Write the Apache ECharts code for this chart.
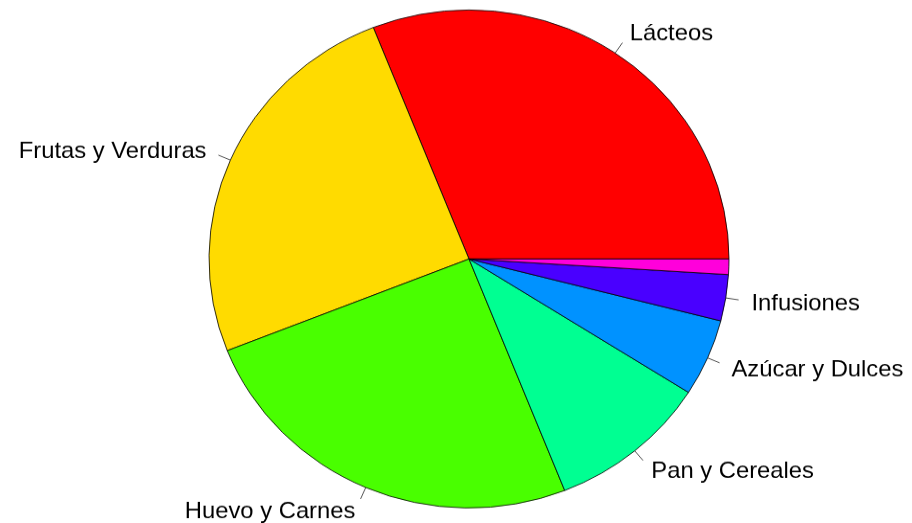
<!DOCTYPE html>
<html>
<head>
<meta charset="utf-8">
<script src="https://cdn.jsdelivr.net/npm/echarts@6/dist/echarts.min.js"></script>
<style>
html,body{margin:0;padding:0;background:#fff;overflow:hidden;}
#wrap{width:912px;height:523px;overflow:hidden;}
#c{width:912px;height:546px;transform:scaleY(0.9577);transform-origin:0 0;}
</style>
</head>
<body>
<div id="wrap"><div id="c"></div></div>
<script>
const categories = ["Lácteos", "Frutas y Verduras", "Huevo y Carnes", "Pan y Cereales", "Azúcar y Dulces", "Infusiones", ""];
const values = [31, 25, 25, 10, 5, 3, 1];
const colors = ["#FF0000", "#FFDB00", "#49FF00", "#00FF92", "#0092FF", "#4900FF", "#FF00DB"];

const CX = 469, CY = 270.4, R = 260;
const total = values.reduce((a, b) => a + b, 0);
const mids = [];
let acc = 0;
values.forEach(v => { mids.push((acc + v / 2) / total * 2 * Math.PI); acc += v; });

const chart = echarts.init(document.getElementById('c'));
chart.setOption({
  animation: false,
  backgroundColor: '#fff',
  series: [{
    type: 'pie',
    center: [CX, CY],
    radius: [0, R],
    startAngle: 0,
    clockwise: false,
    avoidLabelOverlap: false,
    silent: true,
    emphasis: { disabled: true },
    itemStyle: { borderColor: '#000', borderWidth: 0.8 },
    label: {
      show: true,
      position: 'outside',
      color: '#000',
      fontFamily: 'Liberation Sans, Arial, sans-serif',
      fontSize: 23.8
    },
    labelLine: { show: true, length: 13, length2: 0, lineStyle: { color: '#555', width: 1 } },
    labelLayout: function (p) {
      const a = mids[p.dataIndex];
      const c = Math.cos(a), s = Math.sin(a);
      return {
        x: CX + 1.1 * R * c,
        y: CY - 1.1 * R * s + 2,
        align: c < 0 ? 'right' : 'left',
        verticalAlign: 'middle',
        labelLinePoints: [
          [CX + R * c, CY - R * s],
          [CX + 1.05 * R * c, CY - 1.05 * R * s],
          [CX + 1.05 * R * c, CY - 1.05 * R * s]
        ]
      };
    },
    data: categories.map((n, i) => ({
      name: n,
      value: values[i],
      itemStyle: { color: colors[i] },
      label: { show: n !== '' },
      labelLine: { show: n !== '' }
    }))
  }]
});
</script>
</body>
</html>
